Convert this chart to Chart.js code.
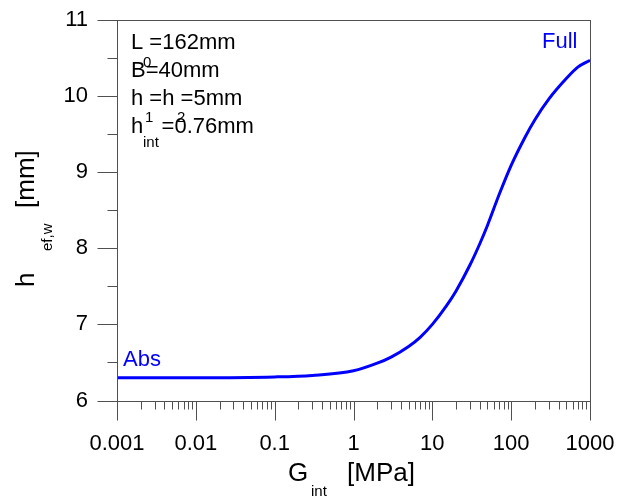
<!DOCTYPE html>
<html>
<head>
<meta charset="utf-8">
<script src="https://cdn.jsdelivr.net/npm/chart.js@4.4.0/dist/chart.umd.min.js"></script>
<style>
    html, body { margin: 0; padding: 0; background: #fff; }
    #wrap { width: 620px; height: 498px; }
</style>
</head>
<body>
<div id="wrap"><canvas id="grafico"></canvas></div>
<script>
// dados
const gInt = [0.001, 0.01, 0.1, 0.3, 1, 2, 3, 5, 7, 10, 15, 20, 30, 40, 50, 70, 100, 150, 200, 300, 500, 700, 1000];
const hEfw = [6.30, 6.30, 6.31, 6.33, 6.39, 6.49, 6.57, 6.71, 6.83, 7.00, 7.24, 7.44, 7.78, 8.06, 8.30, 8.70, 9.09, 9.46, 9.69, 9.96, 10.23, 10.38, 10.47];

const xTicks = [0.001, 0.01, 0.1, 1, 10, 100, 1000];
const xTickLabels = ['0.001', '0.01', '0.1', '1', '10', '100', '1000'];
const yTicks = [6, 7, 8, 9, 10, 11];
const yTickLabels = ['6', '7', '8', '9', '10', '11'];
const yMinor = [6.5, 7.5, 8.5, 9.5, 10.5];

var xMinor = [];
for (var d = 0; d < xTicks.length - 1; d++) {
    for (var k = 2; k <= 9; k++) {
        xMinor.push(xTicks[d] * k);
    }
}

const fonte = "'Liberation Sans', Arial, sans-serif";
const azul = '#0000ff';

function semPadding(scale) {
    scale.paddingLeft = 0;
    scale.paddingRight = 0;
    scale.paddingTop = 0;
    scale.paddingBottom = 0;
}

// moldura, marcas dos eixos e textos
const desenhos = {
    id: 'desenhos',
    afterDraw(chart) {
        const ctx = chart.ctx;
        const a = chart.chartArea;
        const sx = chart.scales.x;
        const sy = chart.scales.y;
        const L = Math.round(a.left) + 0.5;
        const R = Math.round(a.right) + 0.5;
        const T = Math.round(a.top) + 0.5;
        const B = Math.round(a.bottom) + 0.5;

        ctx.save();
        ctx.strokeStyle = '#505050';
        ctx.lineWidth = 1;
        ctx.strokeRect(L, T, R - L, B - T);

        ctx.beginPath();
        yTicks.forEach(function (v) {
            const p = Math.round(sy.getPixelForValue(v)) + 0.5;
            ctx.moveTo(L - 20, p); ctx.lineTo(L, p);
        });
        yMinor.forEach(function (v) {
            const p = Math.round(sy.getPixelForValue(v)) + 0.5;
            ctx.moveTo(L - 10, p); ctx.lineTo(L, p);
        });
        xTicks.forEach(function (v) {
            const p = Math.round(sx.getPixelForValue(v)) + 0.5;
            ctx.moveTo(p, B); ctx.lineTo(p, B + 19);
        });
        xMinor.forEach(function (v) {
            const p = Math.round(sx.getPixelForValue(v)) + 0.5;
            ctx.moveTo(p, B); ctx.lineTo(p, B + 8);
        });
        ctx.stroke();

        ctx.fillStyle = '#000';
        ctx.textBaseline = 'alphabetic';
        ctx.textAlign = 'left';

        // titulo eixo x
        ctx.font = '26px ' + fonte;
        ctx.fillText('G', 288, 481);
        ctx.fillText('[MPa]', 347, 481);
        ctx.font = '15px ' + fonte;
        ctx.fillText('int', 311, 496);

        // titulo eixo y
        ctx.save();
        ctx.translate(34, 287);
        ctx.rotate(-Math.PI / 2);
        ctx.font = '26px ' + fonte;
        ctx.fillText('h', 0, 0);
        ctx.fillText('[mm]', 79, 0);
        ctx.font = '15px ' + fonte;
        ctx.fillText('ef,w', 36, 18);
        ctx.restore();

        // parametros
        ctx.font = '22px ' + fonte;
        ctx.fillText('L =162mm', 131, 49);
        ctx.fillText('B=40mm', 131, 77);
        ctx.fillText('h =h =5mm', 131, 105);
        ctx.fillText('h   =0.76mm', 131, 133);
        ctx.font = '15px ' + fonte;
        ctx.fillText('0', 143, 67);
        ctx.fillText('1', 145, 122);
        ctx.fillText('2', 177, 122);
        ctx.fillText('int', 143, 147);

        // rotulos da curva
        ctx.fillStyle = azul;
        ctx.font = '22px ' + fonte;
        ctx.fillText('Abs', 123, 366);
        ctx.fillText('Full', 542, 48);
        ctx.restore();
    }
};

const data_grafico = {
    datasets: [
        {
            label: 'h_ef,w',
            data: gInt.map(function (g, i) { return { x: g, y: hEfw[i] }; }),
            borderColor: azul,
            borderWidth: 3,
            pointRadius: 0,
            fill: false,
            cubicInterpolationMode: 'monotone'
        }
    ]
};

const config_grafico = {
    type: 'line',
    data: data_grafico,
    options: {
        responsive: true,
        maintainAspectRatio: false,
        animation: false,
        layout: {
            padding: { top: 20, right: 30, left: 0, bottom: 0 }
        },
        scales: {
            x: {
                type: 'logarithmic',
                min: 0.001,
                max: 1000,
                grid: { display: false, drawTicks: false },
                border: { display: false },
                afterBuildTicks: function (scale) {
                    scale.ticks = xTicks.map(function (v) { return { value: v }; });
                },
                afterFit: function (scale) {
                    scale.height = 97.5;
                    semPadding(scale);
                },
                ticks: {
                    autoSkip: false,
                    maxRotation: 0,
                    padding: 30,
                    color: '#000',
                    font: { size: 22, family: fonte },
                    callback: function (value, index) {
                        return xTickLabels[index];
                    }
                }
            },
            y: {
                min: 6,
                max: 11,
                grid: { display: false, drawTicks: false },
                border: { display: false },
                afterBuildTicks: function (scale) {
                    scale.ticks = yTicks.map(function (v) { return { value: v }; });
                },
                afterFit: function (scale) {
                    scale.width = 117;
                    semPadding(scale);
                },
                ticks: {
                    padding: 29,
                    color: '#000',
                    font: { size: 22, family: fonte },
                    callback: function (value, index) {
                        return yTickLabels[index];
                    }
                }
            }
        },
        plugins: {
            legend: { display: false },
            tooltip: { enabled: false },
            title: { display: false }
        }
    },
    plugins: [desenhos]
};

const grafico = new Chart(document.getElementById('grafico'), config_grafico);
</script>
</body>
</html>
